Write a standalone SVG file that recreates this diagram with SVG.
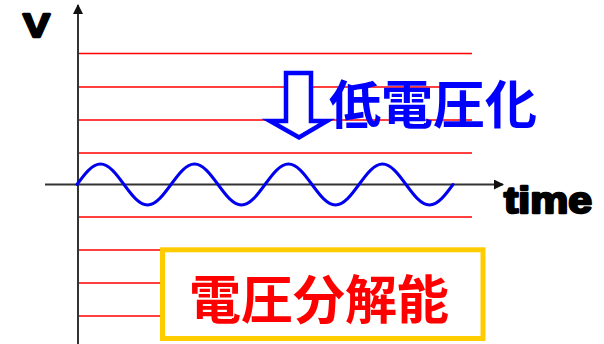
<svg xmlns="http://www.w3.org/2000/svg" width="604" height="344" viewBox="0 0 604 344">
<style>
.grid{stroke:#FF0000;stroke-width:1.5;fill:none}
.axis{stroke:#333333;stroke-width:2;fill:none}
.wave{stroke:#0000EE;stroke-width:3;fill:none;stroke-linecap:round}
.lbl{font-family:"Liberation Sans",Arial,sans-serif;font-weight:bold;fill:#000;stroke:#000;stroke-width:2.4;stroke-linejoin:round}
.jp{font-family:"Noto Sans CJK JP","Noto Sans CJK SC",sans-serif;font-weight:bold;font-size:52px;text-anchor:middle}
</style>
<defs>
<marker id="ah" viewBox="0 0 10 10" refX="9" refY="5" markerWidth="5" markerHeight="5" orient="auto">
<path d="M0,0 L10,5 L0,10 z" fill="#111"/>
</marker>
</defs>
<rect width="604" height="344" fill="#fff"/>
<g id="grid-lines">
<line class="grid" x1="78" y1="53.5" x2="472" y2="53.5"/>
<line class="grid" x1="78" y1="87" x2="472" y2="87"/>
<line class="grid" x1="78" y1="120" x2="472" y2="120"/>
<line class="grid" x1="78" y1="153" x2="472" y2="153"/>
<line class="grid" x1="78" y1="217" x2="472" y2="217"/>
<line class="grid" x1="78" y1="250" x2="472" y2="250"/>
<line class="grid" x1="78" y1="283" x2="472" y2="283"/>
<line class="grid" x1="78" y1="316" x2="472" y2="316"/>
</g>
<g id="connectors">
<line class="axis" x1="78" y1="344" x2="78" y2="5" marker-end="url(#ah)"/>
<line class="axis" x1="45" y1="184.5" x2="503" y2="184.5" marker-end="url(#ah)"/>
</g>
<g id="wave">
<path class="wave" d="M77,184.5 C84.66,174 92,164 100.5,164 S116.34,174 124,184.5 S139,205 147.5,205 S163.34,195 171,184.5 S186,164 194.5,164 S210.34,174 218,184.5 S233,205 241.5,205 S257.34,195 265,184.5 S280,164 288.5,164 S304.34,174 312,184.5 S327,205 335.5,205 S351.34,195 359,184.5 S374,164 382.5,164 S398.34,174 406,184.5 S421,205 429.5,205 S445.34,195 453,184.5"/>
</g>
<g id="label-v">
<text class="lbl" x="23" y="36.5" font-size="34" textLength="27" lengthAdjust="spacingAndGlyphs">V</text>
</g>
<g id="label-time">
<text class="lbl" x="504" y="213" font-size="37" textLength="88" lengthAdjust="spacingAndGlyphs">time</text>
</g>
<g id="arrow-down">
<polygon points="286,73 311,73 311,121 327,121 299,137.5 270,121 286,121" fill="#fff" stroke="#0000FF" stroke-width="4.5" stroke-linejoin="miter"/>
</g>
<g id="label-low-voltage">
<text class="jp" x="433" y="124" fill="#0000FF">低電圧化</text>
</g>
<g id="resolution-box">
<rect x="162.5" y="249.8" width="320.5" height="88.7" fill="#fff" stroke="#FFCC00" stroke-width="5"/>
<text class="jp" x="319" y="319" fill="#FF0000">電圧分解能</text>
</g>
</svg>
